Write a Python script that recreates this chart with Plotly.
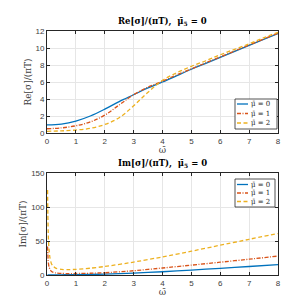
import plotly.graph_objects as go

# ---- data ----
omega_re = [0, 0.5, 1, 1.5, 2, 2.5, 3, 3.5, 4, 4.5, 5, 5.5, 6, 6.5, 7, 7.5, 8]
re_mu0 = [0.95, 1.05, 1.4, 2.0, 2.8, 3.7, 4.5, 5.3, 6.0, 6.75, 7.5, 8.2, 8.9, 9.6, 10.3, 11.0, 11.7]
re_mu1 = [0.5, 0.6, 0.85, 1.3, 2.1, 3.3, 4.5, 5.4, 6.1, 6.85, 7.55, 8.25, 8.95, 9.65, 10.35, 11.05, 11.75]
re_mu2 = [0.2, 0.25, 0.35, 0.55, 1.0, 1.8, 3.2, 4.8, 6.2, 7.1, 7.85, 8.5, 9.2, 9.85, 10.5, 11.2, 11.85]

omega_im = [0.02, 0.03, 0.04, 0.05, 0.07, 0.1, 0.15, 0.2, 0.3, 0.5, 0.7, 1, 1.5, 2, 3, 4, 5, 6, 7, 8]
im_mu0 = [0.0, 0.0, 0.0, 0.05, 0.05, 0.1, 0.1, 0.15, 0.2, 0.3, 0.4, 0.6, 0.9, 1.3, 2.8, 4.8, 7.3, 9.8, 12.5, 15.3]
im_mu1 = [42, 30, 22, 17, 12, 8.5, 5.5, 4.2, 3.0, 2.3, 2.1, 2.2, 2.6, 3.3, 6.3, 10.3, 14.5, 18.8, 23.2, 27.8]
im_mu2 = [125, 88, 66, 52, 38, 26, 17, 13.5, 10, 8.2, 7.8, 8.3, 10, 12.5, 19, 26.6, 35, 43.8, 52.5, 61]

labels = ["μ̄ = 0", "μ̄ = 1", "μ̄ = 2"]
colors = ["#0072BD", "#D95319", "#EDB120"]
dashes = ["solid", "4px,1.5px,1px,1.5px", "4px,2.5px"]

fig = go.Figure()
for ys, lab, c, d in zip([re_mu0, re_mu1, re_mu2], labels, colors, dashes):
    fig.add_trace(go.Scatter(x=omega_re, y=ys, mode="lines", name=lab,
                             line=dict(color=c, dash=d, width=1.3, shape="spline"),
                             xaxis="x", yaxis="y", showlegend=False))
for ys, lab, c, d in zip([im_mu0, im_mu1, im_mu2], labels, colors, dashes):
    fig.add_trace(go.Scatter(x=omega_im, y=ys, mode="lines", name=lab,
                             line=dict(color=c, dash=d, width=1.3, shape="spline", smoothing=0.6),
                             xaxis="x2", yaxis="y2", showlegend=False))

serif = "DejaVu Serif"
axcommon = dict(showline=True, mirror="ticks", linecolor="#262626", linewidth=0.8, ticks="inside", ticklen=3,
                tickcolor="#262626", showgrid=True, gridcolor="#E6E6E6", gridwidth=0.8, zeroline=False,
                tickfont=dict(size=8, color="#404040", family="Liberation Sans"))

# plot area in pixels: x 39..270, y 23..267
L, R, T, B = 39, 270, 23, 267
def px(x):
    return (x - L) / (R - L)
def py(y):
    return (B - y) / (B - T)

shapes = []
annotations = [
    dict(text="<b>Re[σ]/(πT),  μ̄<sub>5</sub> = 0</b>", x=0.5, y=1.0, xref="paper", yref="paper",
         xanchor="center", yanchor="bottom", yshift=2, showarrow=False, font=dict(size=8.5, family=serif, color="#000")),
    dict(text="<b>Im[σ]/(πT),  μ̄<sub>5</sub> = 0</b>", x=0.5, y=py(165), xref="paper", yref="paper",
         xanchor="center", yanchor="bottom", yshift=2, showarrow=False, font=dict(size=8.5, family=serif, color="#000")),
]

def add_legend(box, rows, line_x):
    x0, y0, x1, y1 = box
    shapes.append(dict(type="rect", xref="paper", yref="paper", x0=px(x0), x1=px(x1), y0=py(y1), y1=py(y0),
                       line=dict(color="#262626", width=0.8), fillcolor="white", layer="above"))
    for r, lab, c, d in zip(rows, labels, colors, dashes):
        shapes.append(dict(type="line", xref="paper", yref="paper", x0=px(line_x[0]), x1=px(line_x[1]),
                           y0=py(r), y1=py(r), line=dict(color=c, dash=d, width=1.3), layer="above"))
        annotations.append(dict(text=lab, x=px(line_x[1] + 1), y=py(r), xref="paper", yref="paper",
                                xanchor="left", yanchor="middle", showarrow=False,
                                font=dict(size=7, family=serif, color="#262626")))

add_legend((227, 91, 269, 121), (96, 105.5, 115), (229, 240))
add_legend((227, 171, 267, 199), (176.5, 185, 193.5), (229, 240))

fig.update_layout(
    width=300, height=300, margin=dict(l=L, r=300 - R, t=T, b=300 - B),
    paper_bgcolor="white", plot_bgcolor="white", showlegend=False,
    xaxis=dict(domain=[0, 1], range=[0, 8], dtick=1, anchor="y",
               title=dict(text="ω̄", font=dict(size=9, family=serif, color="#404040"), standoff=2), **axcommon),
    yaxis=dict(domain=[py(125), 1], range=[0, 12], dtick=2, anchor="x",
               title=dict(text="Re[σ]/(πT)", font=dict(size=9, family=serif, color="#404040"), standoff=2), **axcommon),
    xaxis2=dict(domain=[0, 1], range=[0, 8], dtick=1, anchor="y2",
                title=dict(text="ω̄", font=dict(size=9, family=serif, color="#404040"), standoff=2), **axcommon),
    yaxis2=dict(domain=[0, py(165)], range=[0, 150], dtick=50, anchor="x2",
                title=dict(text="Im[σ]/(πT)", font=dict(size=9, family=serif, color="#404040"), standoff=2), **axcommon),
    shapes=shapes,
    annotations=annotations,
)
fig.write_html("out.html")
